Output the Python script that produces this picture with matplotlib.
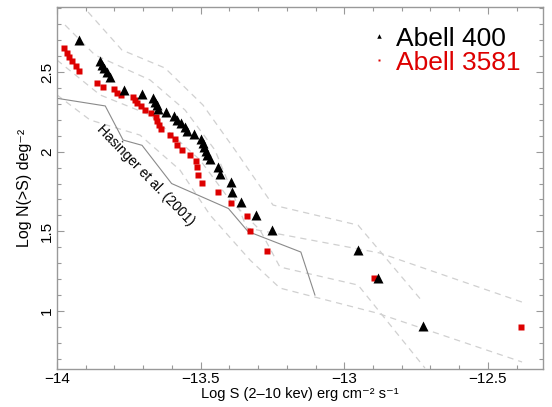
import numpy as np
import matplotlib
matplotlib.use("Agg")
import matplotlib.pyplot as plt
from matplotlib.ticker import MultipleLocator

plt.rcParams['font.family'] = ['Liberation Sans', 'DejaVu Sans']

# Abell 400 (triangles)
a400_logs = [-13.923, -13.850, -13.844, -13.838, -13.827, -13.814, -13.767, -13.704,
             -13.667, -13.659, -13.653, -13.647, -13.621, -13.592, -13.582, -13.570,
             -13.556, -13.546, -13.522, -13.498, -13.492, -13.487, -13.481, -13.478,
             -13.467, -13.438, -13.433, -13.394, -13.391, -13.361, -13.308, -13.253,
             -12.951, -12.884, -12.727]
a400_logn = [2.701, 2.569, 2.544, 2.525, 2.500, 2.469, 2.387, 2.360, 2.337, 2.314,
             2.293, 2.270, 2.249, 2.224, 2.201, 2.180, 2.157, 2.131, 2.111, 2.078,
             2.054, 2.029, 2.004, 1.979, 1.951, 1.905, 1.860, 1.809, 1.750, 1.681,
             1.602, 1.508, 1.383, 1.205, 0.905]

# Abell 3581 (squares)
a3581_logs = [-13.976, -13.966, -13.957, -13.949, -13.934, -13.922, -13.859, -13.839,
              -13.802, -13.790, -13.778, -13.737, -13.730, -13.720, -13.708, -13.692,
              -13.674, -13.657, -13.651, -13.644, -13.637, -13.606, -13.589, -13.581,
              -13.566, -13.537, -13.516, -13.514, -13.510, -13.496, -13.441, -13.394,
              -13.340, -13.327, -13.268, -12.896, -12.383]
a3581_logn = [2.648, 2.619, 2.594, 2.569, 2.538, 2.506, 2.431, 2.404, 2.391, 2.371,
              2.357, 2.345, 2.322, 2.305, 2.285, 2.263, 2.241, 2.217, 2.191, 2.166,
              2.141, 2.104, 2.077, 2.045, 2.012, 1.979, 1.943, 1.902, 1.853, 1.801,
              1.744, 1.678, 1.598, 1.502, 1.378, 1.205, 0.901]

# Hasinger et al. (2001) relation
hasinger_logs = [-14.0, -13.832, -13.770, -13.704, -13.601, -13.403, -13.335, -13.151, -13.102]
hasinger_logn = [2.335, 2.287, 2.073, 2.040, 1.800, 1.643, 1.499, 1.370, 1.100]

# dashed error envelopes
a400_hi_logs = [-13.892, -13.774, -13.624, -13.492, -13.380, -13.248, -12.952, -12.726]
a400_hi_logn = [2.877, 2.638, 2.525, 2.293, 2.010, 1.665, 1.539, 1.056]
a400_lo_logs = [-14.0, -13.850, -13.676, -13.502, -13.398, -13.293, -13.224, -12.952, -12.719]
a400_lo_logn = [2.575, 2.356, 2.230, 1.948, 1.696, 1.508, 1.276, 1.163, 0.642]
a3581_hi_logs = [-13.972, -13.868, -13.676, -13.554, -13.450, -13.339, -12.876, -12.381]
a3581_hi_logn = [2.795, 2.607, 2.450, 2.261, 2.010, 1.521, 1.364, 1.056]
a3581_lo_logs = [-14.0, -13.885, -13.711, -13.572, -13.467, -13.328, -13.224, -12.886, -12.381]
a3581_lo_logn = [2.356, 2.199, 2.104, 1.885, 1.602, 1.320, 1.144, 0.987, 0.680]

red = '#dd0000'
edge = '#999999'

fig = plt.figure(figsize=(5.52, 4.07), dpi=100)
ax = fig.add_axes([57 / 552, 1 - 369 / 407, 486 / 552, 362 / 407])

for xs, ys in [(a400_hi_logs, a400_hi_logn), (a400_lo_logs, a400_lo_logn),
               (a3581_hi_logs, a3581_hi_logn), (a3581_lo_logs, a3581_lo_logn)]:
    ax.plot(xs, ys, color='#d0d0d0', lw=0.9, ls=(0, (5, 4)), zorder=1)

ax.plot(hasinger_logs, hasinger_logn, color='#8a8a8a', lw=0.8, zorder=2)
ax.text(-13.690, 1.853, 'Hasinger et al. (2001)', rotation=-46, rotation_mode='anchor',
        ha='center', va='center', fontsize=10)

l2, = ax.plot(a3581_logs, a3581_logn, 's', color=red, ms=4.2, mec='none', zorder=3)
l1, = ax.plot(a400_logs, a400_logn, '^', color='black', ms=6.5, mec='none', zorder=4)

ax.legend([l1, l2], ['Abell 400', 'Abell 3581'], loc='upper right',
          bbox_to_anchor=(0.975, 0.975), frameon=False, fontsize=19,
          markerscale=0.5, handlelength=0.5, handletextpad=0.4,
          labelspacing=0.0, borderaxespad=0, labelcolor=['black', red])

ax.set_xlim(-14, -12.308)
ax.set_ylim(0.636, 2.908)
ax.xaxis.set_minor_locator(MultipleLocator(0.1))
ax.yaxis.set_minor_locator(MultipleLocator(0.1))
ax.set_xticks([-14, -13.5, -13, -12.5])
ax.set_xticklabels(['\u221214', '\u221213.5', '\u221213', '\u221212.5'])
ax.set_yticks([1, 1.5, 2, 2.5])
ax.set_yticklabels(['1', '1.5', '2', '2.5'], rotation=90, va='center')

ax.tick_params(which='both', direction='in', top=True, right=True, color=edge,
               labelsize=11, pad=2)
ax.tick_params(which='major', length=5, width=0.8)
ax.tick_params(which='minor', length=3, width=0.8)
for s in ax.spines.values():
    s.set_color(edge)
    s.set_linewidth(1)

ax.set_xlabel('Log S (2\u201310 kev) erg cm\u207b\u00b2 s\u207b\u00b9', fontsize=10.5)
ax.xaxis.set_label_coords(0.5, -0.05)
ax.set_ylabel('Log N(>S) deg\u207b\u00b2', fontsize=11.5, labelpad=6)

fig.savefig('out.png', dpi=100)
